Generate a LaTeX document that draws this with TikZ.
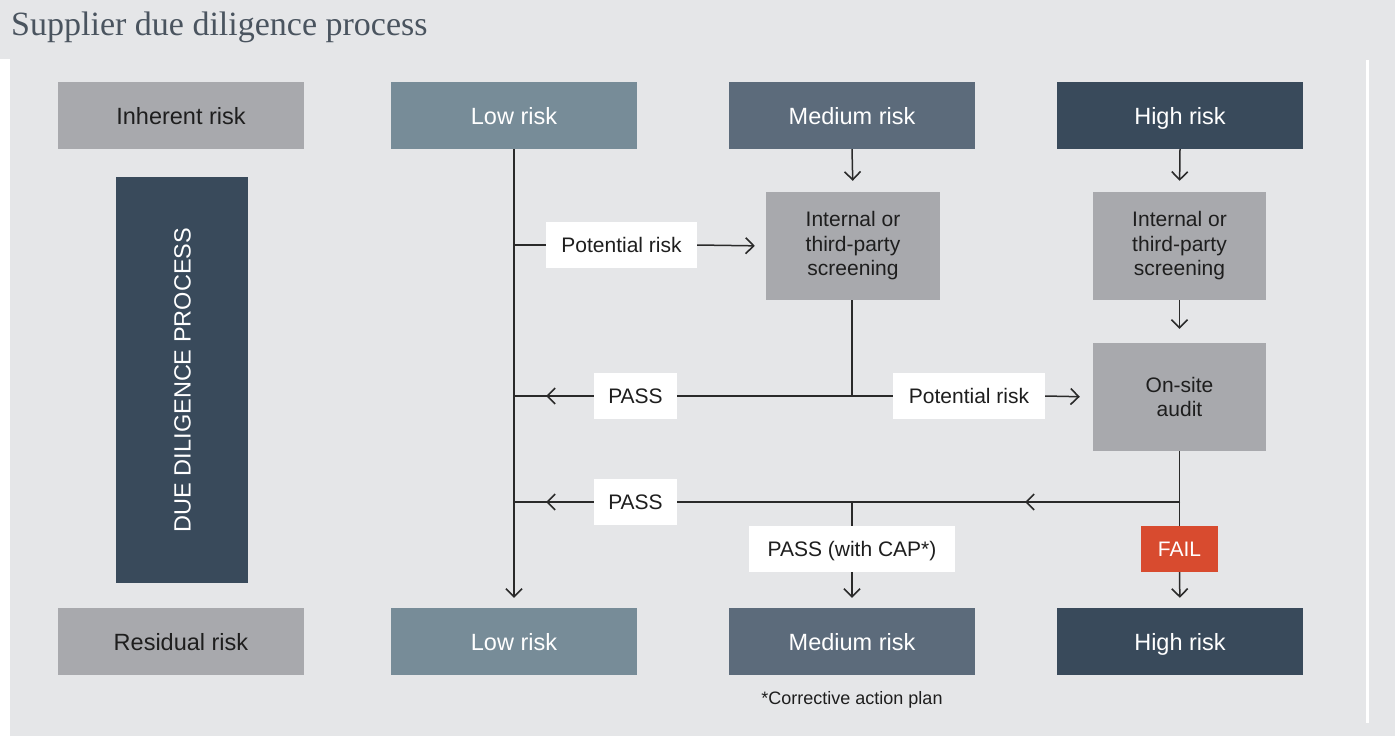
\documentclass[tikz,border=0pt]{standalone}
\usepackage{fontspec}
\setmainfont{Liberation Sans}
\newfontfamily\titlefont{Liberation Serif}
\usetikzlibrary{arrows.meta,calc}
\definecolor{bgc}{HTML}{E5E6E8}
\definecolor{boxgray}{HTML}{A8A9AD}
\definecolor{txt}{HTML}{1E1E1E}
\definecolor{lowc}{HTML}{778C98}
\definecolor{medc}{HTML}{5C6B7B}
\definecolor{highc}{HTML}{394A5B}
\definecolor{failc}{HTML}{D84B2F}
\definecolor{linec}{HTML}{2A2A2A}
\definecolor{titlec}{HTML}{4A545F}
\tikzset{
  base/.style={inner sep=0pt, align=center, font=\fontsize{21}{24.5}\selectfont},
  oneline/.style={text height=15pt, text depth=0pt},
  hdr/.style={base, minimum width=246pt, minimum height=67pt, font=\fontsize{23.5}{28}\selectfont, text=white, text height=17pt, text depth=0pt},
  graybox/.style={base, fill=boxgray, text=txt},
  lbl/.style={base, oneline, fill=white, minimum height=46pt, text=txt},
  conn/.style={line width=1.5pt, draw=linec},
  arr/.style={conn, -{Straight Barb[length=8pt,width=16pt,line width=1.6pt]}},
}
\begin{document}
\begin{tikzpicture}[x=1pt,y=-1pt]
% background
\fill[bgc] (0,0) rectangle (1395,736);
\useasboundingbox (0,0) rectangle (1395,736);
\fill[white] (0,59) rectangle (10,736);
\fill[white] (1366,60) rectangle (1368.5,723);
% title
\node[anchor=base west, inner sep=0pt, text=titlec, font=\titlefont\fontsize{34}{38}\selectfont] (title) at (11,35) {Supplier due diligence process};

% header row
\node[hdr, fill=boxgray, text=txt] (inh) at (181,115.5) {Inherent risk};
\node[hdr, fill=lowc] (lowT) at (514,115.5) {Low risk};
\node[hdr, fill=medc] (medT) at (852,115.5) {Medium risk};
\node[hdr, fill=highc] (highT) at (1180,115.5) {High risk};

% bottom row
\node[hdr, fill=boxgray, text=txt] (res) at (181,641.5) {Residual risk};
\node[hdr, fill=lowc] (lowB) at (514,641.5) {Low risk};
\node[hdr, fill=medc] (medB) at (852,641.5) {Medium risk};
\node[hdr, fill=highc] (highB) at (1180,641.5) {High risk};

% due diligence bar
\node[base, fill=highc, minimum width=132pt, minimum height=406pt] (ddp) at (182,380) {};
\node[base, text=white, rotate=90, text height=17pt, text depth=0pt, font=\fontsize{23.5}{28}\selectfont] (ddpt) at (ddp.center) {DUE DILIGENCE PROCESS};

% process boxes
\node[graybox, minimum width=174pt, minimum height=108pt] (scrM) at (853,246) {Internal or\\third-party\\screening};
\node[graybox, minimum width=173pt, minimum height=108pt] (scrH) at (1179.5,246) {Internal or\\third-party\\screening};
\node[graybox, minimum width=173pt, minimum height=108pt] (audit) at (1179.5,397) {On-site\\audit};

% labels
\node[lbl, minimum width=151pt] (pr1) at (621.5,245) {Potential risk};
\node[lbl, minimum width=83pt] (pass1) at (635.5,396) {PASS};
\node[lbl, minimum width=152pt] (pr2) at (969,396) {Potential risk};
\node[lbl, minimum width=83pt] (pass2) at (635.5,502) {PASS};
\node[lbl, minimum width=206pt] (cap) at (852,549) {PASS (with CAP*)};
\node[base, oneline, fill=failc, text=white, minimum width=77pt, minimum height=46pt] (fail) at (1179.5,549) {FAIL};
\node[base, text=txt, font=\fontsize{18}{22}\selectfont] (note) at (852,700) {*Corrective action plan};

% coordinates
\coordinate (v1) at (lowT.south |- pr1);
\coordinate (v2) at (lowT.south |- pass1);
\coordinate (v3) at (lowT.south |- pass2);
\coordinate (m1) at (852,396);
\coordinate (j3) at (1180,502);
\coordinate (j4) at (cap.north |- pass2);
\coordinate (t2) at (546,396);
\coordinate (t3) at (546,502);
\coordinate (t4) at (1025,502);

% connectors
\draw[arr, shorten >=10pt] (lowT.south) -- (lowB.north);
\draw[arr, shorten >=11pt] (medT.south) -- (scrM.north);
\draw[arr, shorten >=11pt] (highT.south) -- (scrH.north);
\draw[arr, shorten >=14pt] (scrH.south) -- (audit.north);

\draw[conn] (v1) -- (pr1.west);
\draw[arr, shorten >=11pt] (pr1.east) -- (scrM.west);

\draw[conn] (scrM.south -| m1) -- (m1) -- (pass1.east);
\draw[conn] (pass1.west) -- (v2);
\draw[arr] (pass1.west) -- (t2);
\draw[conn] (m1) -- (pr2.west);
\draw[arr, shorten >=13pt] (pr2.east) -- (audit.west);

\draw[conn] (audit.south) -- (fail.north);
\draw[conn] (j3) -- (pass2.east);
\draw[arr] (j3) -- (t4);
\draw[conn] (pass2.west) -- (v3);
\draw[arr] (pass2.west) -- (t3);
\draw[conn] (j4) -- (cap.north);
\draw[arr, shorten >=10pt] (cap.south) -- (medB.north);
\draw[arr, shorten >=10pt] (fail.south) -- (highB.north);
\end{tikzpicture}
\end{document}
